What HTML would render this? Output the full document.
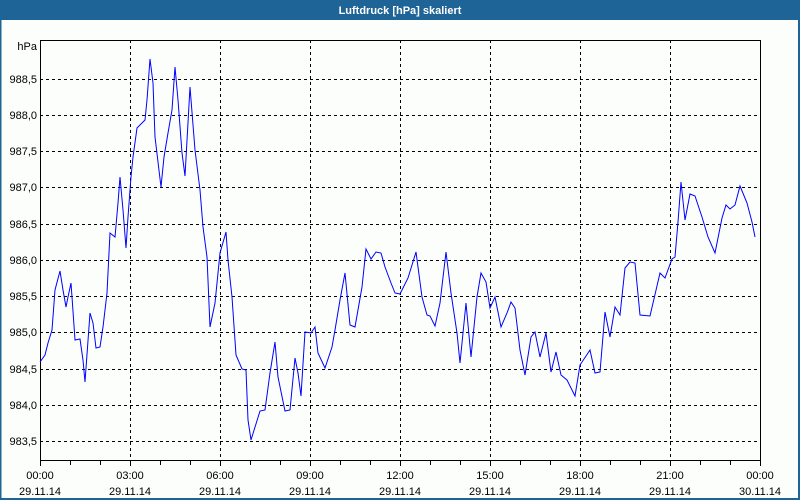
<!DOCTYPE html>
<html><head><meta charset="utf-8"><style>
body{margin:0;width:800px;height:500px;overflow:hidden;background:#fcfefc}
svg{display:block}
text{font-family:"Liberation Sans",sans-serif;font-size:11px;fill:#000}
</style></head><body>
<svg width="800" height="500" viewBox="0 0 800 500">
<rect x="0" y="0" width="800" height="500" fill="#fcfefc"/>
<rect x="0" y="0" width="800" height="20" fill="#1e6496"/>
<rect x="0" y="0" width="1.5" height="500" fill="#1e6496"/>
<rect x="798" y="0" width="2" height="500" fill="#1e6496"/>
<rect x="0" y="498" width="800" height="2" fill="#1e6496"/>
<text x="400" y="14" text-anchor="middle" style="fill:#fff;font-weight:bold;font-size:11px">Luftdruck [hPa] skaliert</text>
<g stroke="#000" stroke-width="1" stroke-dasharray="3,3" fill="none">
<path d="M40 79.5H760M40 115.5H760M40 151.5H760M40 187.5H760M40 224.5H760M40 260.5H760M40 296.5H760M40 332.5H760M40 369.5H760M40 405.5H760M40 441.5H760"/>
<path d="M130.5 40V460M220.5 40V460M310.5 40V460M400.5 40V460M490.5 40V460M580.5 40V460M670.5 40V460"/>
</g>
<rect x="40.5" y="40.5" width="720" height="420" fill="none" stroke="#000" stroke-width="1"/>
<g stroke="#000" stroke-width="1">
<path d="M40.5 460v6M70.5 460v5M100.5 460v5M130.5 460v6M160.5 460v5M190.5 460v5M220.5 460v6M250.5 460v5M280.5 460v5M310.5 460v6M340.5 460v5M370.5 460v5M400.5 460v6M430.5 460v5M460.5 460v5M490.5 460v6M520.5 460v5M550.5 460v5M580.5 460v6M610.5 460v5M640.5 460v5M670.5 460v6M700.5 460v5M730.5 460v5M760.5 460v6"/>
</g>
<g text-anchor="end">
<text x="37" y="50">hPa</text>
<text x="37" y="83">988,5</text><text x="37" y="119">988,0</text><text x="37" y="155">987,5</text><text x="37" y="191">987,0</text><text x="37" y="228">986,5</text><text x="37" y="264">986,0</text><text x="37" y="300">985,5</text><text x="37" y="336">985,0</text><text x="37" y="373">984,5</text><text x="37" y="409">984,0</text><text x="37" y="445">983,5</text>
</g>
<g text-anchor="middle">
<text x="40" y="479">00:00</text><text x="40" y="495">29.11.14</text>
<text x="130" y="479">03:00</text><text x="130" y="495">29.11.14</text>
<text x="220" y="479">06:00</text><text x="220" y="495">29.11.14</text>
<text x="310" y="479">09:00</text><text x="310" y="495">29.11.14</text>
<text x="400" y="479">12:00</text><text x="400" y="495">29.11.14</text>
<text x="490" y="479">15:00</text><text x="490" y="495">29.11.14</text>
<text x="580" y="479">18:00</text><text x="580" y="495">29.11.14</text>
<text x="670" y="479">21:00</text><text x="670" y="495">29.11.14</text>
<text x="760" y="479">00:00</text><text x="760" y="495">30.11.14</text>
</g>
<polyline fill="none" stroke="#0000ff" stroke-width="1" points="40,362 45,355 48,343 52,330 55,290 60,271 63,290 66,307 68,297 71,283 72,297 75,340 80,339 83,360 85,382 90,313 93,323 96,348 100,347 103,327 107,293 110,233 115,237 118,203 120,177 123,210 126,248 128,217 131,177 133,157 137,128 145,120 147,100 150,59 153,83 155,137 161,187 164,157 168,133 172,110 175,67 178,100 182,153 185,176 190,87 195,150 200,190 203,227 207,257 210,327 215,303 220,253 226,232 228,260 232,297 236,355 242,369 246,370 248,420 251,440 260,411 265,410 270,373 275,342 278,377 285,411 290,410 295,358 298,373 301,396 305,332 311,333 315,327 318,353 325,368 332,347 335,330 340,300 345,273 350,325 355,327 362,287 366,249 371,259 376,252 381,253 385,267 391,283 395,293 400,294 408,278 416,252 422,297 427,315 430,316 435,326 440,303 446,252 451,293 457,333 460,363 466,303 471,357 477,297 481,273 486,282 490,308 495,297 501,327 507,313 511,302 515,308 520,350 525,375 531,337 535,332 540,357 546,333 551,372 556,352 561,375 567,380 575,396 580,365 590,350 595,373 600,372 605,312 610,337 615,307 620,315 625,268 630,262 635,263 640,315 650,316 660,273 665,278 672,259 675,257 678,222 681,182 685,220 690,194 695,196 702,217 708,237 715,253 722,218 726,205 730,209 735,205 740,186 747,203 752,222 755,237"/>
</svg>
</body></html>
